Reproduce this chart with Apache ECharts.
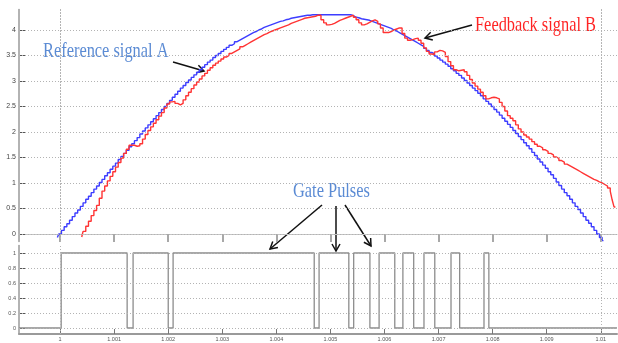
<!DOCTYPE html>
<html>
<head>
<meta charset="UTF-8">
<title>Reference / feedback signal and gate pulses</title>
<script src="https://cdn.jsdelivr.net/npm/echarts@6.0.0/dist/echarts.min.js"></script>
<style>
  html, body { margin: 0; padding: 0; background: #fff; }
  #main { width: 618px; height: 343px; }
</style>
</head>
<body>
<div id="main"></div>
<script>
// time axis ticks (s)
var xTicks = [1, 1.001, 1.002, 1.003, 1.004, 1.005, 1.006, 1.007, 1.008, 1.009, 1.01];
var yTopTicks = [0, 0.5, 1, 1.5, 2, 2.5, 3, 3.5, 4];
var yPulseTicks = [0, 0.2, 0.4, 0.6, 0.8, 1];

// reference signal A, one sample every 50 us
var blueStart = 0.99995, blueStep = 0.00005;
var blueValues = [-0.07, 0.00, 0.07, 0.14, 0.20, 0.27, 0.34, 0.41, 0.47, 0.54,
  0.61, 0.68, 0.74, 0.81, 0.88, 0.94, 1.01, 1.07, 1.14, 1.20,
  1.27, 1.33, 1.39, 1.46, 1.52, 1.58, 1.64, 1.71, 1.77, 1.83,
  1.89, 1.96, 2.02, 2.08, 2.14, 2.20, 2.26, 2.32, 2.38, 2.44,
  2.50, 2.56, 2.62, 2.68, 2.74, 2.80, 2.86, 2.91, 2.97, 3.02,
  3.07, 3.12, 3.17, 3.22, 3.27, 3.32, 3.37, 3.41, 3.46, 3.50,
  3.54, 3.58, 3.62, 3.66, 3.70, 3.73, 3.77, 3.80, 3.83, 3.86,
  3.89, 3.92, 3.95, 3.97, 4.00, 4.02, 4.05, 4.07, 4.09, 4.11,
  4.13, 4.15, 4.17, 4.18, 4.20, 4.21, 4.23, 4.24, 4.25, 4.26,
  4.27, 4.28, 4.29, 4.29, 4.30, 4.30, 4.30, 4.30, 4.30, 4.30,
  4.30, 4.30, 4.30, 4.30, 4.30, 4.30, 4.30, 4.30, 4.30, 4.28,
  4.25, 4.24, 4.22, 4.21, 4.20, 4.19, 4.17, 4.15, 4.13, 4.11,
  4.09, 4.07, 4.05, 4.03, 4.00, 3.98, 3.95, 3.92, 3.89, 3.86,
  3.83, 3.80, 3.77, 3.74, 3.71, 3.68, 3.64, 3.60, 3.56, 3.53,
  3.49, 3.45, 3.41, 3.37, 3.33, 3.29, 3.24, 3.20, 3.15, 3.11,
  3.06, 3.01, 2.96, 2.91, 2.86, 2.81, 2.76, 2.71, 2.65, 2.60,
  2.55, 2.50, 2.44, 2.39, 2.33, 2.27, 2.21, 2.15, 2.09, 2.03,
  1.97, 1.91, 1.85, 1.79, 1.73, 1.67, 1.60, 1.54, 1.47, 1.41,
  1.35, 1.29, 1.22, 1.16, 1.09, 1.02, 0.95, 0.88, 0.81, 0.75,
  0.68, 0.61, 0.54, 0.48, 0.41, 0.34, 0.27, 0.21, 0.14, 0.07,
  0.00, -0.07, -0.13];

// feedback signal B, one sample every 50 us
var redStart = 1.0004, redStep = 0.00005;
var redValues = [-0.06, 0.05, 0.15, 0.25, 0.36, 0.46, 0.56, 0.70, 0.84, 0.94,
  1.04, 1.13, 1.22, 1.31, 1.40, 1.49, 1.58, 1.66, 1.74, 1.74,
  1.72, 1.73, 1.77, 1.86, 1.95, 2.03, 2.10, 2.17, 2.24, 2.31,
  2.38, 2.47, 2.55, 2.59, 2.60, 2.56, 2.53, 2.56, 2.63, 2.71,
  2.78, 2.85, 2.92, 2.98, 3.04, 3.10, 3.15, 3.21, 3.26, 3.31,
  3.35, 3.39, 3.43, 3.47, 3.50, 3.54, 3.57, 3.60, 3.63, 3.67,
  3.70, 3.73, 3.76, 3.79, 3.82, 3.85, 3.88, 3.91, 3.93, 3.96,
  3.98, 4.00, 4.02, 4.04, 4.06, 4.08, 4.10, 4.13, 4.15, 4.17,
  4.19, 4.21, 4.23, 4.24, 4.25, 4.26, 4.27, 4.29, 4.29, 4.20,
  4.14, 4.10, 4.11, 4.13, 4.16, 4.19, 4.21, 4.23, 4.25, 4.27,
  4.29, 4.25, 4.20, 4.14, 4.10, 4.12, 4.15, 4.18, 4.20, 4.17,
  4.12, 4.04, 3.95, 3.95, 3.97, 4.00, 4.02, 4.04, 4.04, 3.93,
  3.84, 3.80, 3.81, 3.83, 3.84, 3.80, 3.74, 3.65, 3.58, 3.53,
  3.52, 3.57, 3.60, 3.59, 3.56, 3.48, 3.38, 3.30, 3.22, 3.20,
  3.21, 3.22, 3.18, 3.11, 3.03, 2.96, 2.90, 2.84, 2.78, 2.71,
  2.65, 2.67, 2.68, 2.67, 2.65, 2.58, 2.50, 2.41, 2.32, 2.27,
  2.22, 2.14, 2.06, 2.00, 1.94, 1.90, 1.86, 1.81, 1.76, 1.72,
  1.69, 1.65, 1.62, 1.58, 1.55, 1.51, 1.48, 1.44, 1.41, 1.37,
  1.34, 1.31, 1.28, 1.25, 1.22, 1.19, 1.16, 1.13, 1.10, 1.07,
  1.05, 1.02, 1.00, 0.97, 0.94, 0.90, 0.84];
var redTailTimes = [1.01022, 1.01027];
var redTailValues = [0.67, 0.53];

// gate pulses: switching instants and new level
var pulseTimes = [0.99924, 1.00002, 1.00124, 1.00135, 1.002, 1.00209, 1.0047, 1.00479, 1.00534, 1.00543,
  1.00573, 1.0059, 1.00619, 1.00634, 1.00654, 1.00673, 1.00693, 1.00723, 1.00739, 1.00784, 1.00793, 1.0103];
var pulseLevels = [0, 1, 0, 1, 0, 1, 0, 1, 0, 1, 0, 1, 0, 1, 0, 1, 0, 1, 0, 1, 0, 0];

var xMin = 0.99924, xMax = 1.0103;

function toPairs(t0, dt, vals) {
  return vals.map(function (v, i) { return [t0 + i * dt, v]; });
}
var blueData = toPairs(blueStart, blueStep, blueValues);
var redData = toPairs(redStart, redStep, redValues);
redTailTimes.forEach(function (t, i) { redData.push([t, redTailValues[i]]); });
var pulseData = pulseTimes.map(function (t, i) { return [t, pulseLevels[i]]; });

function fmtTime(v) { return String(+(+v).toFixed(3)); }

var dotted = { color: '#b3b3b3', width: 1, type: [1, 2] };
function gridLines(yVals) {
  var d = [];
  yVals.forEach(function (v) { d.push({ yAxis: v }); });
  xTicks.forEach(function (v) { d.push({ xAxis: v }); });
  return {
    silent: true, symbol: ['none', 'none'], label: { show: false },
    lineStyle: dotted, emphasis: { disabled: true }, animation: false, data: d
  };
}

// arrows for the annotations
function arrow(x1, y1, x2, y2) {
  var a = Math.atan2(y2 - y1, x2 - x1), L = 7, W = 4;
  var bx = x2 - L * Math.cos(a), by = y2 - L * Math.sin(a);
  var st = { stroke: '#111', lineWidth: 1.5, fill: null };
  return [
    { type: 'line', shape: { x1: x1, y1: y1, x2: x2, y2: y2 }, style: st },
    { type: 'polyline', shape: { points: [[bx + W * Math.sin(a), by - W * Math.cos(a)], [x2, y2], [bx - W * Math.sin(a), by + W * Math.cos(a)]] }, style: st }
  ];
}
function label(txt, x, y, color) {
  return {
    type: 'text', x: x, y: y, scaleX: 0.78,
    style: { text: txt, font: '21px "Liberation Serif"', fill: color, align: 'left', verticalAlign: 'middle' }
  };
}

var graphics = [
  label('Reference signal A', 43, 51, '#5b8bd4'),
  label('Feedback signal B', 475, 25.5, '#ff2424'),
  label('Gate Pulses', 293, 191, '#5b8bd4')
].concat(arrow(173, 62, 204, 71), arrow(472, 25, 425, 38),
  arrow(322, 205, 270, 249), arrow(336, 206, 336, 251), arrow(345, 205, 371, 246));

var myChart = echarts.init(document.getElementById('main'), null, { renderer: 'canvas' });
var option = {
  animation: false,
  backgroundColor: '#fff',
  textStyle: { fontFamily: 'Liberation Sans' },
  grid: [
    { left: 19, right: 1, top: 9.6, height: 232 },
    { left: 19, right: 1, top: 245.5, height: 88.5 }
  ],
  xAxis: [
    {
      type: 'value', gridIndex: 0, min: xMin, max: xMax, position: 'top',
      axisLine: { show: true, lineStyle: { color: '#c4c4c4', width: 1 } },
      axisTick: { show: true, inside: true, length: 8, customValues: xTicks, lineStyle: { color: '#a8a8a8', width: 2 } },
      axisLabel: { show: false, customValues: xTicks },
      splitLine: { show: false }
    },
    {
      type: 'value', gridIndex: 1, min: xMin, max: xMax, position: 'bottom',
      axisLine: { show: true, onZero: false, lineStyle: { color: '#9a9a9a', width: 2 } },
      axisTick: { show: true, inside: true, length: 5, customValues: xTicks, lineStyle: { color: '#777', width: 1 } },
      axisLabel: { customValues: xTicks, fontSize: 5.5, color: '#555', margin: 2, formatter: fmtTime },
      splitLine: { show: false }
    }
  ],
  yAxis: [
    {
      type: 'value', gridIndex: 0, min: -0.15, max: 4.4,
      axisLine: { show: true, lineStyle: { color: '#9a9a9a', width: 1.5 } },
      axisTick: { show: true, inside: true, length: 6, customValues: yTopTicks, lineStyle: { color: '#555', width: 1 } },
      axisLabel: { customValues: yTopTicks, fontSize: 7, color: '#444', margin: 3, formatter: function (v) { return String(v); } },
      splitLine: { show: false }
    },
    {
      type: 'value', gridIndex: 1, min: -0.08, max: 1.1,
      axisLine: { show: true, lineStyle: { color: '#9a9a9a', width: 1.5 } },
      axisTick: { show: true, inside: true, length: 6, customValues: yPulseTicks, lineStyle: { color: '#555', width: 1 } },
      axisLabel: { customValues: yPulseTicks, fontSize: 5.5, color: '#555', margin: 3, formatter: function (v) { return String(v); } },
      splitLine: { show: false }
    }
  ],
  series: [
    { name: 'grid top', type: 'line', xAxisIndex: 0, yAxisIndex: 0, data: [], z: 1, markLine: gridLines(yTopTicks) },
    {
      name: 'Reference signal A', type: 'line', xAxisIndex: 0, yAxisIndex: 0, step: 'middle',
      showSymbol: false, z: 3, lineStyle: { color: '#3d3dff', width: 1.4 }, data: blueData
    },
    {
      name: 'Feedback signal B', type: 'line', xAxisIndex: 0, yAxisIndex: 0, step: 'middle',
      showSymbol: false, z: 4, lineStyle: { color: '#ff3434', width: 1.4 }, data: redData
    },
    { name: 'grid bottom', type: 'line', xAxisIndex: 1, yAxisIndex: 1, data: [], z: 1, markLine: gridLines(yPulseTicks) },
    {
      name: 'Gate Pulses', type: 'line', xAxisIndex: 1, yAxisIndex: 1, step: 'end',
      showSymbol: false, z: 3, lineStyle: { color: '#8c8c8c', width: 1.3 }, data: pulseData
    }
  ],
  graphic: graphics
};
myChart.setOption(option);
</script>
</body>
</html>
